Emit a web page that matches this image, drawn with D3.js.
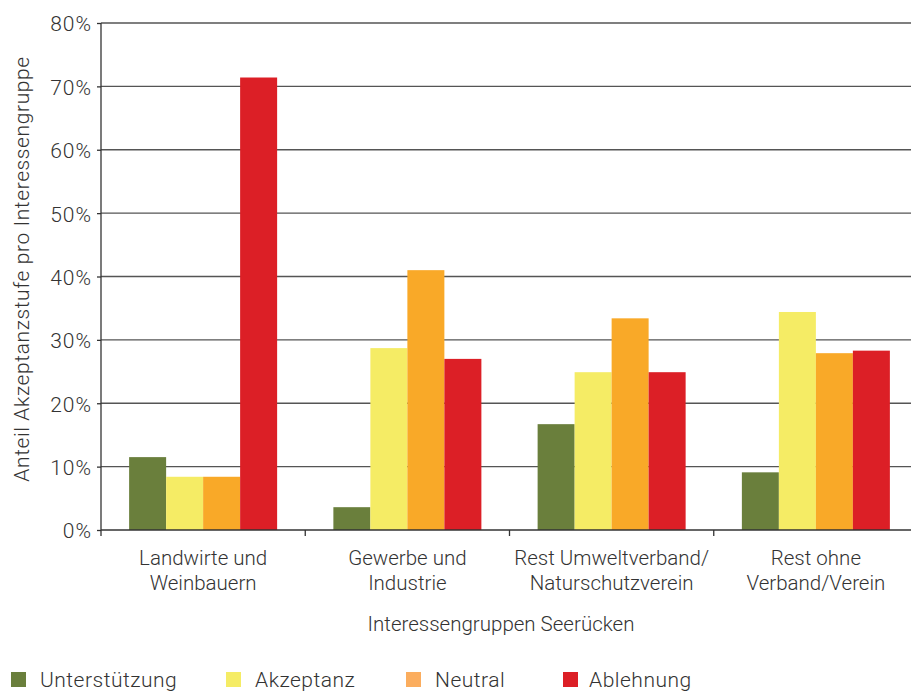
<!DOCTYPE html>
<html>
<head>
<meta charset="utf-8">
<style>
  body { margin: 0; background: #fff; }
  text { font-family: Roboto, "Liberation Sans", sans-serif; fill: #333; font-weight: 300; }
  .grid line { stroke: #555; stroke-width: 1.3; }
  .axis path, .axis line { stroke: #333; stroke-width: 1.3; }
</style>
</head>
<body>
<svg width="911" height="693"></svg>
<script src="https://d3js.org/d3.v7.min.js"></script>
<script>
var categories = [["Landwirte und", "Weinbauern"], ["Gewerbe und", "Industrie"],
                  ["Rest Umweltverband/", "Naturschutzverein"], ["Rest ohne", "Verband/Verein"]];
var series = ["Unterstützung", "Akzeptanz", "Neutral", "Ablehnung"];
var unterstuetzung = [11.5, 3.6, 16.7, 9.1];
var akzeptanz = [8.4, 28.7, 24.9, 34.4];
var neutral = [8.4, 41.0, 33.4, 27.9];
var ablehnung = [71.4, 27.0, 24.9, 28.3];
var yTicks = [0, 10, 20, 30, 40, 50, 60, 70, 80];
var colors = ["#6a7f3c", "#f5ec65", "#f9a928", "#dc1f26"];
var legendColors = ["#6a7f3c", "#f5ec65", "#fbad5e", "#dc1f26"];

var values = [unterstuetzung, akzeptanz, neutral, ablehnung];
var data = categories.map(function(c, i) {
  return { key: i, vals: values.map(function(v, s) { return { s: s, v: v[i] }; }) };
});

var svg = d3.select("svg");
var mLeft = 101, mTop = 23, mBottom = 530, mRight = 918;

var x = d3.scaleBand().domain(d3.range(categories.length)).range([mLeft, mRight]);
var x1 = d3.scaleBand().domain(d3.range(series.length)).range([0, x.bandwidth()]).paddingOuter(0.76);
var y = d3.scaleLinear().domain([0, 80]).range([mBottom, mTop]);

// gridlines
svg.append("g").attr("class", "grid")
  .selectAll("line").data(yTicks.slice(1)).enter().append("line")
  .attr("x1", mLeft).attr("x2", 911)
  .attr("y1", function(d) { return y(d); }).attr("y2", function(d) { return y(d); });

// bars
var g = svg.append("g").selectAll("g").data(data).enter().append("g")
  .attr("transform", function(d) { return "translate(" + x(d.key) + ",0)"; });
g.selectAll("rect").data(function(d) { return d.vals; }).enter().append("rect")
  .attr("x", function(d) { return x1(d.s); })
  .attr("width", x1.bandwidth())
  .attr("y", function(d) { return y(d.v); })
  .attr("height", function(d) { return mBottom - y(d.v); })
  .attr("fill", function(d) { return colors[d.s]; });

// y axis
var ya = svg.append("g").attr("class", "axis").attr("transform", "translate(" + mLeft + ",0)")
  .call(d3.axisLeft(y).tickValues(yTicks).tickSize(4).tickSizeOuter(0).tickFormat(function(d) { return d + "%"; }));
ya.selectAll("text").attr("font-size", 21).attr("letter-spacing", 1).attr("x", -9).attr("dy", "0.38em");
ya.select(".domain").attr("d", "M0," + mTop + "V" + mBottom);

// x axis
var xa = svg.append("g").attr("class", "axis").attr("transform", "translate(0," + mBottom + ")");
xa.append("line").attr("x1", mLeft).attr("x2", 911).attr("y1", 0).attr("y2", 0);
xa.selectAll(".tk").data(d3.range(categories.length)).enter().append("line")
  .attr("x1", function(d) { return x(d); }).attr("x2", function(d) { return x(d); })
  .attr("y1", 0).attr("y2", 6);
xa.selectAll(".lbl").data(categories).enter().append("text")
  .attr("text-anchor", "middle").attr("font-size", 20.5)
  .attr("x", function(d, i) { return x(i) + x.bandwidth() / 2; })
  .selectAll("tspan").data(function(d) { return d; }).enter().append("tspan")
  .attr("x", function() { return d3.select(this.parentNode).attr("x"); })
  .attr("y", function(d, i) { return 35 + i * 25; })
  .text(function(d) { return d; });

// axis titles
svg.append("text").attr("text-anchor", "middle").attr("font-size", 20.5)
  .attr("x", 501).attr("y", 631).text("Interessengruppen Seerücken");
svg.append("text").attr("text-anchor", "middle").attr("font-size", 21).attr("letter-spacing", 0.6)
  .attr("transform", "translate(29,269) rotate(-90)").text("Anteil Akzeptanzstufe pro Interessengruppe");

// legend
var legX = [11, 226, 406, 563];
var lg = svg.append("g").selectAll("g").data(series).enter().append("g")
  .attr("transform", function(d, i) { return "translate(" + legX[i] + ",672)"; });
lg.append("rect").attr("width", 15).attr("height", 15).attr("fill", function(d, i) { return legendColors[i]; });
lg.append("text").attr("x", function(d, i) { return i === 3 ? 26 : 29; }).attr("y", 15)
  .attr("font-size", 21).attr("letter-spacing", 0.5).text(function(d) { return d; });
</script>
</body>
</html>
